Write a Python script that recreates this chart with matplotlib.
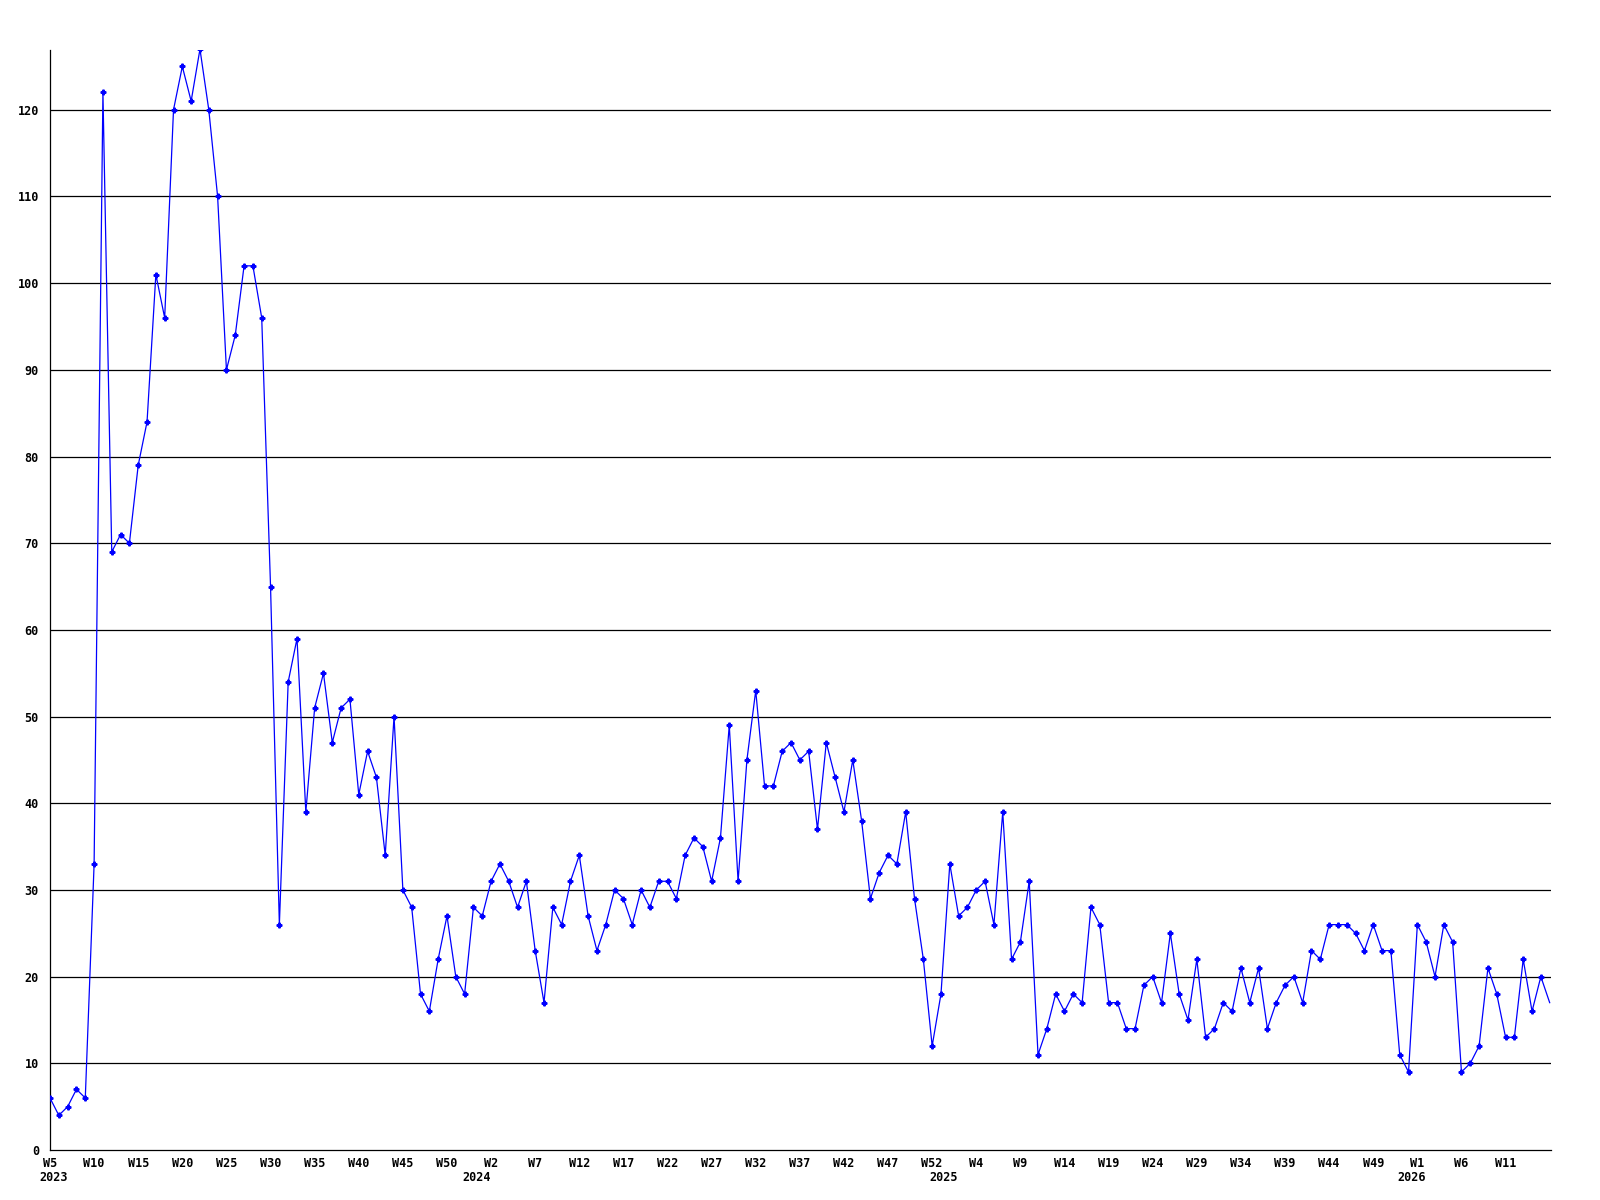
import matplotlib
matplotlib.use('Agg')
import matplotlib.pyplot as plt

# Weekly counts, 2023 W5 onwards (one value per week slot)
counts = [
    6, 4, 5, 7, 6, 33, 122, 69, 71, 70,
    79, 84, 101, 96, 120, 125, 121, 127, 120, 110,
    90, 94, 102, 102, 96, 65, 26, 54, 59, 39,
    51, 55, 47, 51, 52, 41, 46, 43, 34, 50,
    30, 28, 18, 16, 22, 27, 20, 18, 28, 27,
    31, 33, 31, 28, 31, 23, 17, 28, 26, 31,
    34, 27, 23, 26, 30, 29, 26, 30, 28, 31,
    31, 29, 34, 36, 35, 31, 36, 49, 31, 45,
    53, 42, 42, 46, 47, 45, 46, 37, 47, 43,
    39, 45, 38, 29, 32, 34, 33, 39, 29, 22,
    12, 18, 33, 27, 28, 30, 31, 26, 39, 22,
    24, 31, 11, 14, 18, 16, 18, 17, 28, 26,
    17, 17, 14, 14, 19, 20, 17, 25, 18, 15,
    22, 13, 14, 17, 16, 21, 17, 21, 14, 17,
    19, 20, 17, 23, 22, 26, 26, 26, 25, 23,
    26, 23, 23, 11, 9, 26, 24, 20, 26, 24,
    9, 10, 12, 21, 18, 13, 13, 22, 16, 20,
    17,
]

# x tick labels, one every 5 week slots
week_labels = [
    'W5', 'W10', 'W15', 'W20', 'W25', 'W30', 'W35', 'W40', 'W45', 'W50',
    'W2', 'W7', 'W12', 'W17', 'W22', 'W27', 'W32', 'W37', 'W42', 'W47', 'W52',
    'W4', 'W9', 'W14', 'W19', 'W24', 'W29', 'W34', 'W39', 'W44', 'W49',
    'W1', 'W6', 'W11',
]
tick_step = 5

# year labels and the slot index of each year's first week
years = ['2023', '2024', '2025', '2026']
year_start = [0, 49, 102, 155]

font = {'family': 'DejaVu Sans Mono', 'weight': 'bold', 'size': 8.5}

fig = plt.figure(figsize=(16, 12), dpi=100)
ax = fig.add_axes([50 / 1600, 1 - 1150 / 1200, 1501 / 1600, 1100 / 1200])

x = list(range(len(counts)))
ax.plot(x, counts, color='#0000ff', linewidth=0.9, zorder=3,
        marker='P', markersize=3.4, markevery=list(range(len(counts) - 1)))

ax.set_xlim(0, 170.15)
ax.set_ylim(0, 126.9)

yticks = list(range(0, 121, 10))
ax.set_yticks(yticks)
ax.set_yticklabels([str(v) for v in yticks], fontdict=font)
for v in yticks[1:]:
    ax.axhline(v, color='black', linewidth=0.9, zorder=1)

xticks = [i * tick_step for i in range(len(week_labels))]
ax.set_xticks(xticks)
ax.set_xticklabels(week_labels, fontdict=font)

ax.tick_params(axis='both', length=0, colors='black')
ax.tick_params(axis='y', pad=8)
ax.tick_params(axis='x', pad=4.8)

for s in ['top', 'right']:
    ax.spines[s].set_visible(False)
for s in ['left', 'bottom']:
    ax.spines[s].set_linewidth(0.9)
    ax.spines[s].set_color('black')

trans = ax.get_xaxis_transform()
for i, (yr, start) in enumerate(zip(years, year_start)):
    if i == 0:
        ax.text(start - 1.2, -0.0248, yr, transform=trans, ha='left',
                va='center', clip_on=False, **font)
    else:
        ax.text(start - 0.65, -0.0248, yr, transform=trans, ha='center',
                va='center', clip_on=False, **font)

fig.savefig('out.png', dpi=100, facecolor='white')
